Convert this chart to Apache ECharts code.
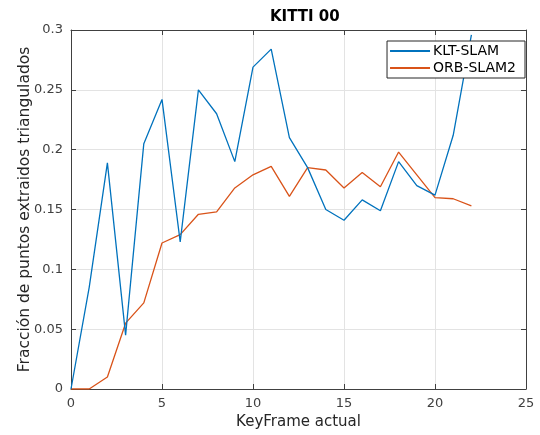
<!DOCTYPE html>
<html>
<head>
<meta charset="utf-8">
<script src="https://cdn.jsdelivr.net/npm/echarts@6/dist/echarts.min.js"></script>
<style>html,body{margin:0;padding:0;background:#fff;}#c{width:540px;height:435px;}</style>
</head>
<body>
<div id="c"></div>
<script>
const keyframes = [0,1,2,3,4,5,6,7,8,9,10,11,12,13,14,15,16,17,18,19,20,21,22];
const kltSlam = [0,0.085,0.189,0.045,0.205,0.242,0.123,0.250,0.230,0.190,0.269,0.284,0.210,0.185,0.150,0.141,0.158,0.149,0.190,0.170,0.162,0.212,0.296];
const orbSlam2 = [0,0,0.010,0.055,0.072,0.122,0.129,0.146,0.148,0.168,0.179,0.186,0.161,0.185,0.183,0.168,0.181,0.169,0.198,0.179,0.160,0.159,0.153];
const seriesNames = ['KLT-SLAM','ORB-SLAM2'];
const titleText = 'KITTI 00';
const xName = 'KeyFrame actual';
const yName = 'Fracción de puntos extraidos triangulados';

const FONT = 'DejaVu Sans';
const axisCol = '#404040';
const gridCol = '#e3e3e3';

function pairs(xs, ys){ return xs.map((x,i)=>[x, ys[i]]); }

const chart = echarts.init(document.getElementById('c'), null, {renderer:'canvas'});
const baseX = {type:'value', min:0, max:25, interval:5};
const baseY = {type:'value', min:0, max:0.3, interval:0.05};
chart.setOption({
  animation:false,
  backgroundColor:'#fff',
  title:{text:titleText, left:265, top:5,
    textStyle:{fontFamily:FONT, fontSize:15, fontWeight:'bold', color:'#000'}},
  grid:{left:71, right:14, top:30, bottom:45.5, containLabel:false},
  legend:{orient:'vertical', right:15, top:41, backgroundColor:'#fff',
    borderColor:'#262626', borderWidth:1, borderRadius:0,
    padding:[3,9,3,3], itemGap:3, itemWidth:40, itemHeight:2, icon:'rect',
    textStyle:{fontFamily:FONT, fontSize:14, color:'#000', padding:[0,0,0,-2]},
    data:seriesNames},
  xAxis:[
    Object.assign({}, baseX, {position:'bottom', name:xName, nameLocation:'middle', nameGap:26,
      nameTextStyle:{fontFamily:FONT, fontSize:15, color:'#262626'},
      axisLine:{show:true, onZero:false, lineStyle:{color:axisCol, width:1}},
      axisTick:{show:true, inside:true, length:5, lineStyle:{color:axisCol}},
      axisLabel:{fontFamily:FONT, fontSize:13, color:'#404040', margin:8},
      splitLine:{show:true, lineStyle:{color:gridCol, width:1}}}),
    Object.assign({}, baseX, {position:'top',
      axisLine:{show:true, onZero:false, lineStyle:{color:axisCol, width:1}},
      axisTick:{show:true, inside:true, length:5, lineStyle:{color:axisCol}},
      axisLabel:{show:false}, splitLine:{show:false}})
  ],
  yAxis:[
    Object.assign({}, baseY, {position:'left', name:yName, nameLocation:'middle', nameGap:38,
      nameMoveOverlap:false,
      nameTextStyle:{fontFamily:FONT, fontSize:15.5, color:'#262626'},
      axisLine:{show:true, onZero:false, lineStyle:{color:axisCol, width:1}},
      axisTick:{show:true, inside:true, length:5, lineStyle:{color:axisCol}},
      axisLabel:{fontFamily:FONT, fontSize:13, color:'#404040', margin:8},
      splitLine:{show:true, lineStyle:{color:gridCol, width:1}}}),
    Object.assign({}, baseY, {position:'right',
      axisLine:{show:true, onZero:false, lineStyle:{color:axisCol, width:1}},
      axisTick:{show:true, inside:true, length:5, lineStyle:{color:axisCol}},
      axisLabel:{show:false}, splitLine:{show:false}})
  ],
  series:[
    {name:seriesNames[0], type:'line', xAxisIndex:0, yAxisIndex:0, data:pairs(keyframes, kltSlam),
      showSymbol:false, symbol:'none', color:'#0072BD', lineStyle:{color:'#0072BD', width:1.3}, z:3},
    {name:seriesNames[1], type:'line', xAxisIndex:0, yAxisIndex:0, data:pairs(keyframes, orbSlam2),
      showSymbol:false, symbol:'none', color:'#D95319', lineStyle:{color:'#D95319', width:1.3}, z:2}
  ]
});
</script>
</body>
</html>
